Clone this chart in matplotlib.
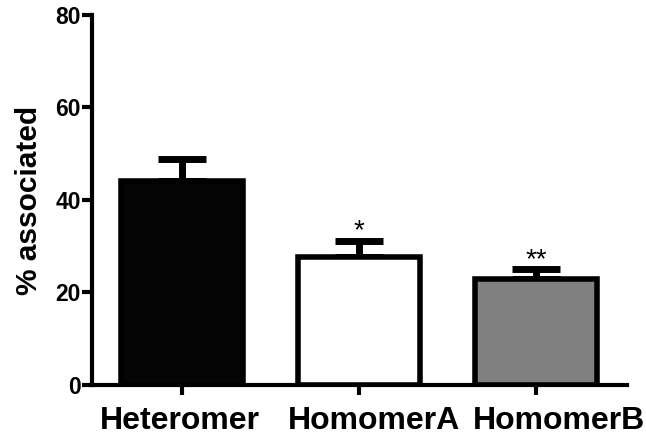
import matplotlib.pyplot as plt

plt.rcParams['font.family'] = ['Liberation Sans', 'DejaVu Sans']

groups = ["Heteromer", "HomomerA", "HomomerB"]
means = [44.1, 27.7, 23.0]
sem = [4.8, 3.5, 2.0]
fills = ["#050505", "#ffffff", "#808080"]
stars = ["", "*", "**"]
# labels in the original sit a bit right of their ticks (points)
label_shift = [-1.5, 10.8, 16.5]

fig = plt.figure(figsize=(6.46, 4.36), dpi=100)
ax = fig.add_axes([0.1424, 0.117, 0.828, 0.8486])

x = range(len(groups))
ax.bar(x, means, width=0.69, color=fills, edgecolor="black", linewidth=4, zorder=2)
ax.errorbar(x, means, yerr=[[0] * len(sem), sem], fmt="none", ecolor="black",
            elinewidth=5, capsize=17, capthick=5, zorder=1)

for i in x:
    if stars[i]:
        ax.annotate(stars[i], (i, means[i] + sem[i]), xytext=(0, -2.5), textcoords="offset points",
                    ha="center", va="bottom", fontsize=20)
    ax.annotate(groups[i], (i, 0), xycoords=ax.get_xaxis_transform(),
                xytext=(label_shift[i], -31.5), textcoords="offset points",
                ha="center", va="baseline", fontsize=23, fontweight="bold",
                annotation_clip=False)

ax.set_xlim(-0.508, 2.514)
ax.set_ylim(0, 80)
ax.set_yticks([0, 20, 40, 60, 80])
ax.set_xticks(list(x))
ax.set_xticklabels([])
ax.set_ylabel("% associated", fontsize=21.5, fontweight="bold", labelpad=9)
for lab in ax.get_yticklabels():
    lab.set_fontsize(16.5)
    lab.set_fontweight("bold")

ax.spines["top"].set_visible(False)
ax.spines["right"].set_visible(False)
ax.spines["left"].set_linewidth(3)
ax.spines["bottom"].set_linewidth(3)
ax.tick_params(axis="both", width=3, length=7, direction="out", pad=1)

fig.savefig("out.png", dpi=100)
